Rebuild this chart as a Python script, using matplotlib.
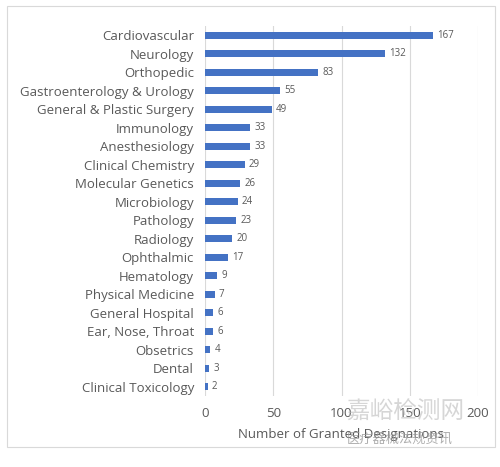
import matplotlib.pyplot as plt
from matplotlib.patches import Rectangle

categories = ["Cardiovascular", "Neurology", "Orthopedic", "Gastroenterology & Urology",
              "General & Plastic Surgery", "Immunology", "Anesthesiology", "Clinical Chemistry",
              "Molecular Genetics", "Microbiology", "Pathology", "Radiology", "Ophthalmic",
              "Hematology", "Physical Medicine", "General Hospital", "Ear, Nose, Throat",
              "Obsetrics", "Dental", "Clinical Toxicology"]
values = [167, 132, 83, 55, 49, 33, 33, 29, 26, 24, 23, 20, 17, 9, 7, 6, 6, 4, 3, 2]
xticks = [0, 50, 100, 150, 200]

plt.rcParams['font.family'] = ['Open Sans', 'Noto Sans CJK SC', 'DejaVu Sans']
text_color = "#595959"

fig = plt.figure(figsize=(5, 4.67), dpi=100)
ax = fig.add_axes([0.41, 0.152, 0.546, 0.792])

pos = list(range(len(categories)))
ax.barh(pos, values, height=0.38, color="#4472C4", zorder=3)
for p, v in zip(pos, values):
    ax.text(v + 3, p, str(v), va="center", ha="left", fontsize=7, color=text_color)

ax.set_yticks(pos)
ax.set_yticklabels(categories, fontsize=9.5, color=text_color)
ax.set_ylim(len(categories) - 0.5, -0.5)
ax.set_xlim(0, 200)
ax.set_xticks(xticks)
ax.set_xticklabels([str(t) for t in xticks], fontsize=9.5, color=text_color)
ax.set_xlabel("Number of Granted Designations", fontsize=9.5, color=text_color, labelpad=6)
ax.grid(axis="x", color="#D9D9D9", linewidth=0.8, zorder=0)
ax.tick_params(length=0, pad=8)
for s in ax.spines.values():
    s.set_visible(False)

# outer chart border
fig.patches.append(Rectangle((0.014, 0.043), 0.976, 0.945, transform=fig.transFigure,
                             fill=False, edgecolor="#D9D9D9", linewidth=0.8))

# watermark
fig.text(0.81, 0.115, "嘉峪检测网", fontsize=17, color="#BBBBBB", alpha=0.6,
         ha="center", va="center")
fig.text(0.8, 0.06, "医疗器械法规资讯", fontsize=9.5, color="#9A9A9A", alpha=0.8,
         ha="center", va="center")

fig.savefig("out.png", dpi=100)
